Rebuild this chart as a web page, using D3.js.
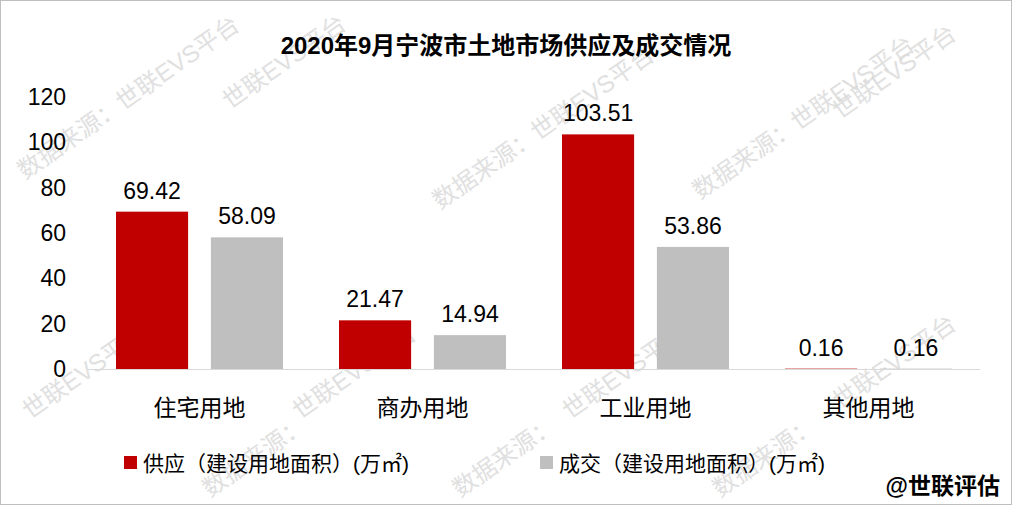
<!DOCTYPE html>
<html><head><meta charset="utf-8">
<script src="https://cdn.jsdelivr.net/npm/d3@7"></script>
<style>body{margin:0;background:#fff}svg{display:block;font-family:"Liberation Sans","Noto Sans CJK SC",sans-serif}</style>
</head><body>
<script>
var categories = ["住宅用地", "商办用地", "工业用地", "其他用地"];
var supply = [69.42, 21.47, 103.51, 0.16];
var deal = [58.09, 14.94, 53.86, 0.16];
var seriesNames = ["供应（建设用地面积）(万㎡)", "成交（建设用地面积）(万㎡)"];
var colors = ["#c00000", "#bfbfbf"];
var yTicks = [0, 20, 40, 60, 80, 100, 120];

var width = 1012, height = 505;
var svg = d3.select("body").append("svg").attr("width", width).attr("height", height);
svg.append("rect").attr("x", 0.5).attr("y", 0.5).attr("width", width - 1).attr("height", height - 1)
  .attr("fill", "#fff").attr("stroke", "#bfbfbf");

//watermarks
var marks = [[25,180,"数据来源：世联EVS平台"],[230,110,"世联EVS平台"],[440,210,"数据来源：世联EVS平台"],[700,200,"数据来源：世联EVS平台"],
  [840,120,"世联EVS平台"],[30,420,"世联EVS平台"],[300,420,"世联EVS平台"],[570,420,"世联EVS平台"],[840,410,"世联EVS平台"],
  [210,498,"数据来源："],[460,498,"数据来源："],[720,498,"数据来源："]];
marks.forEach(function(m){
  svg.append("text").attr("transform","translate("+m[0]+","+m[1]+") rotate(-35)")
    .attr("font-size",24).attr("fill","#d9d9d9").attr("opacity",0.8).text(m[2]);
});

var x0 = d3.scaleBand().domain(categories).range([88, 980]);
var x1 = d3.scaleBand().domain([0, 1]).range([28, 195]).paddingInner(0.24);
var y = d3.scaleLinear().domain([0, 120]).range([369, 97]);

svg.append("text").attr("x", 506).attr("y", 54).attr("text-anchor", "middle")
  .attr("font-size", 24).attr("font-weight", "bold").text("2020年9月宁波市土地市场供应及成交情况");

svg.selectAll(".yt").data(yTicks).enter().append("text")
  .attr("x", 66).attr("y", function(d){ return y(d) + 8; }).attr("text-anchor", "end")
  .attr("font-size", 23).text(function(d){ return d; });

[supply, deal].forEach(function(vals, s){
  var g = svg.append("g");
  g.selectAll("rect").data(vals).enter().append("rect")
    .attr("x", function(d, i){ return x0(categories[i]) + x1(s); })
    .attr("width", x1.bandwidth())
    .attr("y", function(d){ return y(d); })
    .attr("height", function(d){ return y(0) - y(d); })
    .attr("fill", colors[s]);
  g.selectAll("text").data(vals).enter().append("text")
    .attr("x", function(d, i){ return x0(categories[i]) + x1(s) + x1.bandwidth() / 2; })
    .attr("y", function(d){ return y(d) - 13; })
    .attr("text-anchor", "middle").attr("font-size", 23)
    .text(function(d){ return d.toFixed(2); });
});

svg.append("line").attr("x1", 88).attr("x2", 980).attr("y1", 369.5).attr("y2", 369.5).attr("stroke", "#d9d9d9");

svg.selectAll(".xl").data(categories).enter().append("text")
  .attr("x", function(d){ return x0(d) + x0.bandwidth() / 2; }).attr("y", 416)
  .attr("text-anchor", "middle").attr("font-size", 23).text(function(d){ return d; });

var lx = [124, 540];
seriesNames.forEach(function(n, i){
  svg.append("rect").attr("x", lx[i]).attr("y", 456).attr("width", 13).attr("height", 13).attr("fill", colors[i]);
  svg.append("text").attr("x", lx[i] + 19).attr("y", 471).attr("font-size", 21).text(n);
});

svg.append("text").attr("x", 1000).attr("y", 494).attr("text-anchor", "end")
  .attr("font-size", 23).attr("font-weight", "bold").text("@世联评估");
</script>
</body></html>
